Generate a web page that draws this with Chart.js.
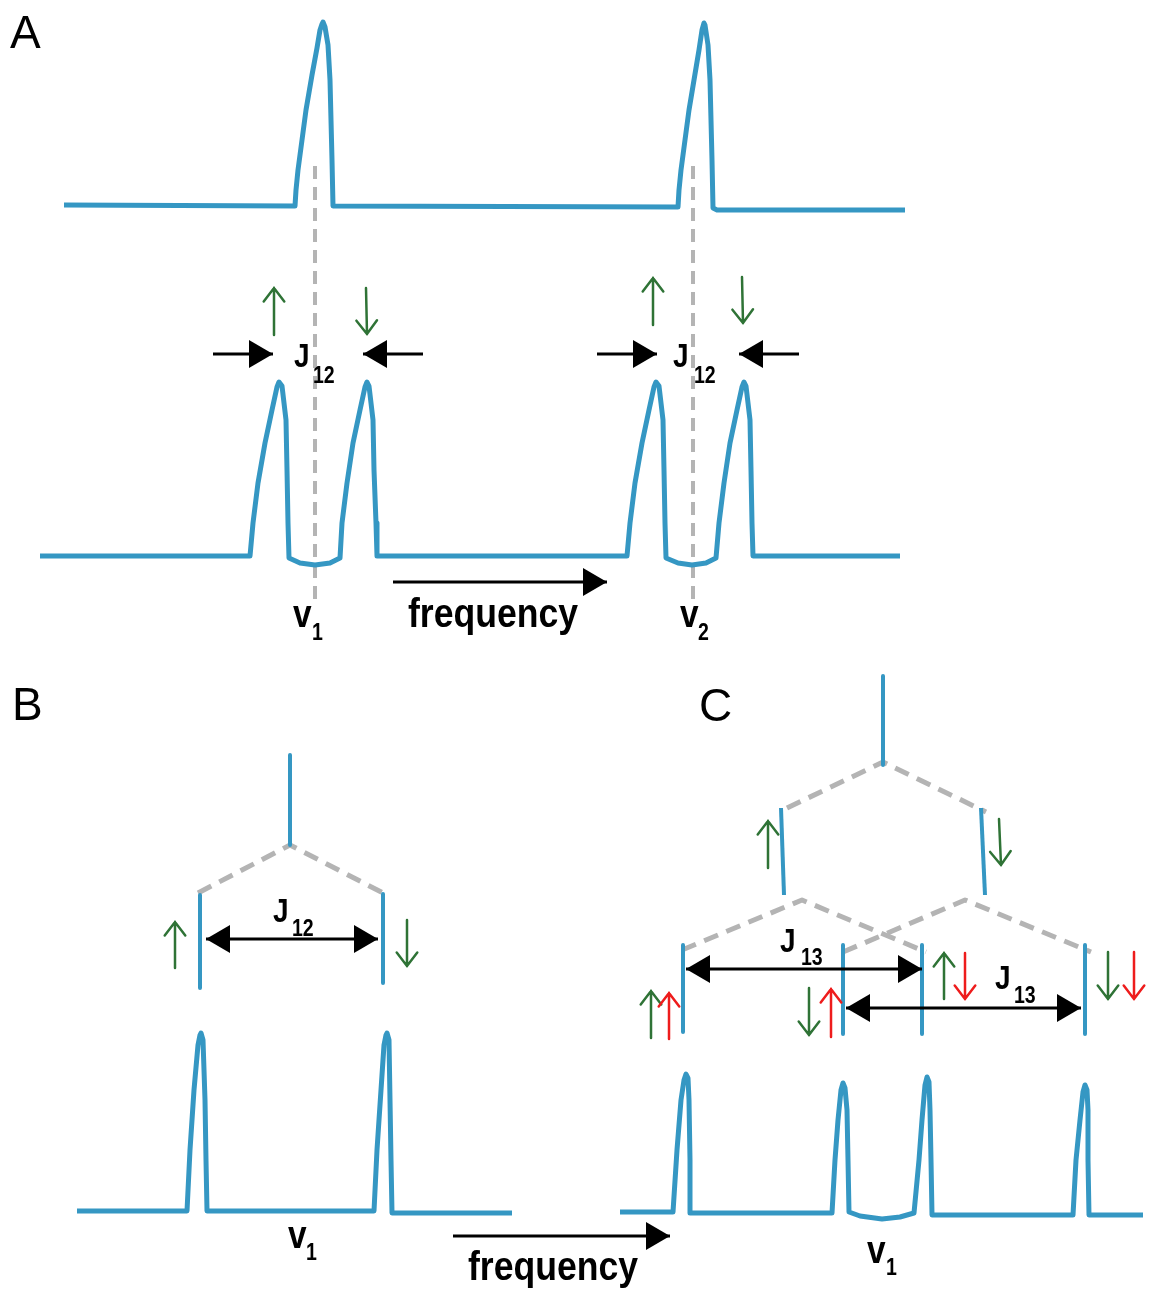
<!DOCTYPE html>
<html>
<head>
<meta charset="utf-8">
<script src="https://cdn.jsdelivr.net/npm/chart.js@4.4.0/dist/chart.umd.min.js"></script>
<style>
  html, body { margin: 0; padding: 0; background: #fff; }
  #wrap { width: 1150px; height: 1290px; }
</style>
</head>
<body>
<div id="wrap"><canvas id="c" width="1150" height="1290"></canvas></div>
<script>
// diagram coordinates: x = frequency axis (0..1150), y = drawing height (0..1290, down)

// panel A, top trace: two singlets
const specATop = [[64,205],[295,206],[296,190],[298,170],[302,140],[306,110],[312,75],[317,48],[320,30],[322,24],[323,22],[325,27],[328,45],[330,80],[331,120],[332,160],[333,206],
  [678,207],[679,190],[681,170],[685,140],[689,110],[694,80],[699,50],[702,30],[704,23],[705,25],[708,45],[710,80],[711,120],[712,160],[713,208],[717,210],[905,210]];

// panel A, bottom trace: two doublets
const specABottom = [[40,556],[250,556],[253,523],[258,483],[265,443],[272,410],[277,387],[279,382],[282,386],[286,420],[287,470],[288,523],[289,558],
  [300,563],[315,565],[330,563],[340,558],[342,523],[347,483],[353,443],[360,410],[365,387],[367,382],[369,386],[373,420],[374,470],[376,523],[377,556],
  [627,556],[630,523],[635,483],[642,443],[649,410],[654,387],[656,382],[659,386],[663,420],[664,470],[665,523],[666,558],
  [678,563],[692,565],[706,563],[716,558],[719,523],[724,483],[730,443],[737,410],[742,387],[744,382],[746,386],[750,420],[751,470],[752,523],[753,556],[900,556]];

// panel B trace
const specB = [[77,1211],[187,1211],[190,1150],[194,1090],[198,1045],[200,1035],[201,1033],[203,1040],[205,1100],[206,1160],[207,1211],
  [374,1211],[377,1150],[381,1090],[384,1045],[386,1035],[387,1033],[389,1040],[390,1100],[391,1160],[392,1213],[512,1213]];

// panel C trace
const specC = [[620,1212],[673,1212],[677,1150],[681,1100],[684,1080],[686,1074],[688,1078],[689,1100],[690,1160],[690,1213],
  [832,1213],[835,1160],[838,1120],[841,1090],[843,1083],[845,1088],[847,1110],[848,1160],[849,1212],
  [860,1216],[882,1219],[900,1217],[914,1213],[919,1160],[922,1120],[925,1085],[927,1077],[929,1082],[930,1110],[931,1160],[932,1215],
  [1073,1215],[1076,1160],[1080,1120],[1083,1092],[1085,1085],[1087,1090],[1088,1110],[1088,1160],[1089,1215],[1143,1215]];

// splitting trees
const treeBLines = [[[290,755],[290,845]], [[200,895],[200,988]], [[383,894],[383,983]]];
const treeBDash = [[[198,893],[290,845],[383,893]]];
const treeCLines = [[[883,676],[883,765]], [[781,808],[784,895]], [[981,808],[985,895]],
  [[683,945],[683,1032]], [[843,945],[843,1034]], [[922,945],[922,1034]], [[1085,945],[1085,1034]]];
const treeCDash = [[[787,808],[883,762],[986,812]], [[682,950],[802,900],[926,952]], [[843,952],[965,900],[1091,952]]];
const guideDash = [[[315,166],[315,600]], [[693,166],[693,600]]];

// black arrows [x1, y1, x2, y2, doubleHeaded]
const blackArrows = [[213,354,273,354,false],[423,354,363,354,false],[597,354,657,354,false],[799,354,739,354,false],
  [393,582,607,582,false],[453,1236,670,1236,false],
  [206,939,378,939,true],[686,969,922,969,true],[846,1008,1081,1008,true]];

// spin arrows [x tail, y tail, x tip, y tip, colour]
const spinArrows = [[274,335,274,288,'g'],[366,288,367,334,'g'],[653,325,653,278,'g'],[742,277,743,323,'g'],
  [175,968,175,922,'g'],[407,920,407,966,'g'],
  [768,868,768,821,'g'],[999,819,1001,865,'g'],
  [651,1038,651,991,'g'],[669,1039,669,993,'r'],
  [809,988,809,1035,'g'],[831,1037,831,989,'r'],
  [944,999,944,953,'g'],[965,953,965,999,'r'],
  [1108,952,1108,999,'g'],[1134,952,1134,999,'r']];

// labels [text, x, y, kind]
const labels = [['A',10,48,'panel'],['B',12,720,'panel'],['C',699,721,'panel'],
  ['J',294,367,'main'],['12',313,383,'sub'],['J',673,367,'main'],['12',694,383,'sub'],
  ['J',273,922,'main'],['12',292,936,'sub'],
  ['J',780,952,'main'],['13',801,965,'sub'],['J',995,989,'main'],['13',1014,1003,'sub'],
  ['v',293,627,'v'],['1',312,640,'sub'],['v',680,627,'v'],['2',698,640,'sub'],
  ['v',288,1248,'v'],['1',306,1260,'sub'],['v',867,1263,'v'],['1',886,1275,'sub'],
  ['frequency',408,627,'freq'],['frequency',468,1280,'freq']];

const BLUE = '#3597c3';
const GRAY = '#b4b4b4';
const COLS = { g: '#2f7336', r: '#ee1c1c' };

const pts = arr => arr.map(([x, y]) => ({ x, y }));
const datasets = [];
const addLine = (arr, color, width, dash) => datasets.push({
  data: pts(arr), showLine: true, borderColor: color, borderWidth: width,
  borderDash: dash || [], pointRadius: 0, borderJoinStyle: 'round', borderCapStyle: 'butt', tension: 0
});

[specATop, specABottom, specB, specC].forEach(s => addLine(s, BLUE, 5));
treeBLines.concat(treeCLines).forEach(s => addLine(s, BLUE, 4));
treeBDash.concat(treeCDash).forEach(s => addLine(s, GRAY, 5, [15, 9]));
guideDash.forEach(s => addLine(s, GRAY, 4, [13, 8]));

// font + horizontal squeeze (the figure uses a condensed bold face)
const fonts = {
  panel: ['46px "Liberation Sans", Arial, sans-serif', 1],
  main: ['bold 33px "Liberation Sans", Arial, sans-serif', 0.85],
  sub: ['bold 23px "Liberation Sans", Arial, sans-serif', 0.85],
  v: ['bold 38px "Liberation Sans", Arial, sans-serif', 0.88],
  freq: ['bold 40px "Liberation Sans", Arial, sans-serif', 0]
};

const marks = {
  id: 'marks',
  afterDatasetsDraw(chart) {
    const { ctx } = chart;
    const X = v => chart.scales.x.getPixelForValue(v);
    const Y = v => chart.scales.y.getPixelForValue(v);
    ctx.save();

    // filled-head arrows
    const head = (tx, ty, ang) => {
      const L = 24, W = 14;
      ctx.beginPath();
      ctx.moveTo(tx, ty);
      ctx.lineTo(tx - L * Math.cos(ang) + W * Math.sin(ang), ty - L * Math.sin(ang) - W * Math.cos(ang));
      ctx.lineTo(tx - L * Math.cos(ang) - W * Math.sin(ang), ty - L * Math.sin(ang) + W * Math.cos(ang));
      ctx.closePath();
      ctx.fill();
    };
    ctx.strokeStyle = '#000';
    ctx.fillStyle = '#000';
    ctx.lineWidth = 3;
    blackArrows.forEach(([x1, y1, x2, y2, dbl]) => {
      const a = Math.atan2(Y(y2) - Y(y1), X(x2) - X(x1));
      ctx.beginPath();
      ctx.moveTo(X(x1), Y(y1));
      ctx.lineTo(X(x2), Y(y2));
      ctx.stroke();
      head(X(x2), Y(y2), a);
      if (dbl) head(X(x1), Y(y1), a + Math.PI);
    });

    // open-head spin arrows
    ctx.lineWidth = 2.5;
    ctx.lineCap = 'round';
    spinArrows.forEach(([x1, y1, x2, y2, c]) => {
      const a = Math.atan2(Y(y2) - Y(y1), X(x2) - X(x1));
      const L = 17, s = 0.65;
      ctx.strokeStyle = COLS[c];
      ctx.beginPath();
      ctx.moveTo(X(x1), Y(y1));
      ctx.lineTo(X(x2), Y(y2));
      ctx.moveTo(X(x2) - L * Math.cos(a - s), Y(y2) - L * Math.sin(a - s));
      ctx.lineTo(X(x2), Y(y2));
      ctx.lineTo(X(x2) - L * Math.cos(a + s), Y(y2) - L * Math.sin(a + s));
      ctx.stroke();
    });

    // text
    ctx.fillStyle = '#000';
    ctx.textBaseline = 'alphabetic';
    ctx.textAlign = 'left';
    labels.forEach(([t, x, y, kind]) => {
      const [font, sq] = fonts[kind];
      ctx.font = font;
      const k = sq || 170 / ctx.measureText(t).width;
      ctx.save();
      ctx.translate(X(x), Y(y));
      ctx.scale(k, 1);
      ctx.fillText(t, 0, 0);
      ctx.restore();
    });
    ctx.restore();
  }
};

new Chart(document.getElementById('c').getContext('2d'), {
  type: 'scatter',
  data: { datasets },
  options: {
    responsive: false,
    animation: false,
    devicePixelRatio: 1,
    layout: { padding: 0 },
    scales: {
      x: { type: 'linear', min: 0, max: 1150, display: false },
      y: { type: 'linear', min: 0, max: 1290, reverse: true, display: false }
    },
    plugins: { legend: { display: false }, tooltip: { enabled: false } }
  },
  plugins: [marks]
});
</script>
</body>
</html>
